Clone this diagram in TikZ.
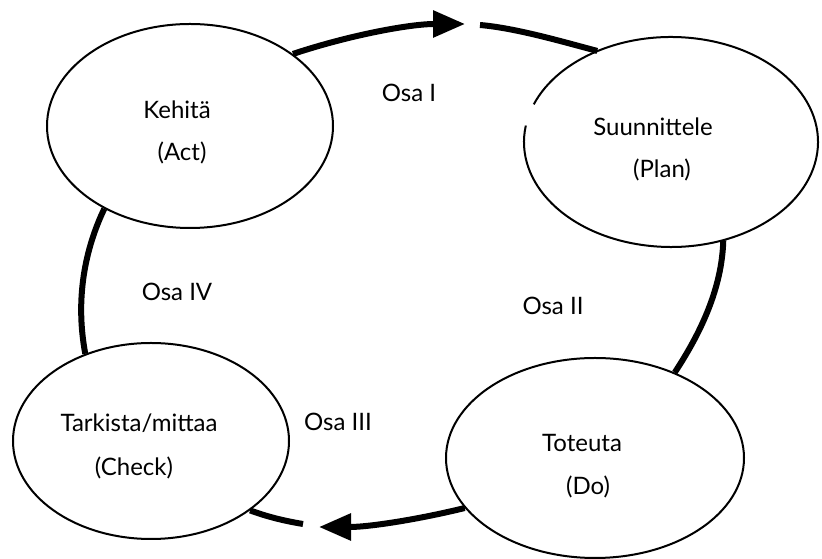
\documentclass[tikz,border=0pt]{standalone}
\usepackage{fontspec}
\setmainfont{Lato}
\usetikzlibrary{shapes.geometric,arrows.meta}
\begin{document}
\begin{tikzpicture}[x=1pt,y=1pt,
  phase/.style={ellipse,draw,line width=2pt,inner sep=0pt},
  outline/.style={line width=2pt},
  txt/.style={font=\fontsize{24}{28}\selectfont,inner sep=0pt},
  flow/.style={line width=6pt},
  tip/.style={-{Triangle[length=32pt,width=26pt]}}]
\useasboundingbox (0,0) rectangle (822,559);
% ellipses
\node[phase,minimum width=286pt,minimum height=204pt] (A) at (190,433) {};
\node[ellipse,inner sep=0pt,minimum width=294pt,minimum height=210pt] (P) at (671,417) {};
\draw[outline] (P.center) ++(171:147pt and 105pt)
  arc[start angle=171,end angle=519,x radius=147pt,y radius=105pt];
\node[phase,minimum width=276pt,minimum height=196pt] (C) at (151,118) {};
\node[phase,minimum width=298pt,minimum height=200pt] (D) at (595,101) {};
% texts
\node[txt] (a1) at (177,449) {Kehitä};
\node[txt] (a2) at (182,406) {(Act)};
\node[txt] (p1) at (653,432) {Suunnittele};
\node[txt] (p2) at (662,389) {(Plan)};
\node[txt] (c1) at (139,136) {Tarkista/mittaa};
\node[txt] (c2) at (134,91) {(Check)};
\node[txt] (d1) at (582,116) {Toteuta};
\node[txt] (d2) at (588,72) {(Do)};
\node[txt] (o1) at (409,466) {Osa I};
\node[txt] (o2) at (553,253) {Osa II};
\node[txt] (o3) at (338,137) {Osa III};
\node[txt] (o4) at (177,267) {Osa IV};
% connector end points
\coordinate (t1) at (465,535);
\coordinate (s2) at (480,534);
\coordinate (t3) at (319,32);
\coordinate (s4) at (303,35);
% connectors
\draw[flow,tip] (A.35.6) .. controls (350,524) and (410,535) .. (t1);
\draw[flow] (s2) .. controls (515,531) and (560,518) .. (P.129.4);
\draw[flow] (P.-62.8) .. controls (722,270) and (700,225) .. (D.47.9);
\draw[flow,tip] (D.201.5) .. controls (420,40) and (370,32) .. (t3);
\draw[flow] (s4) .. controls (285,38) and (268,42) .. (C.-35.5);
\draw[flow] (C.127.8) .. controls (75,260) and (85,310) .. (A.224);
\end{tikzpicture}
\end{document}
